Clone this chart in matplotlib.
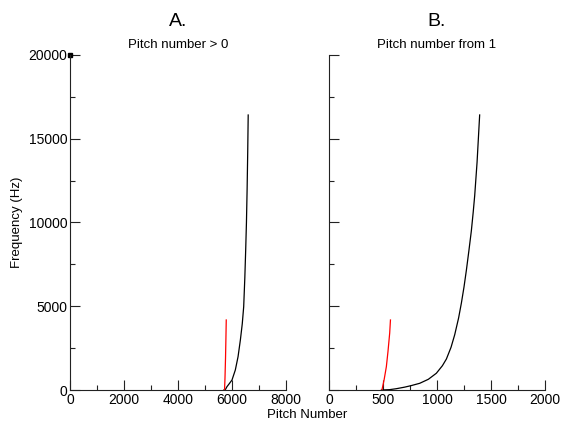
import numpy as np
from matplotlib import pyplot as plt
from matplotlib.ticker import MultipleLocator

plt.rcParams['font.family'] = ['Liberation Sans', 'DejaVu Sans']

# ---- panel A : pitch number > 0 ----
a_black_n = [5700, 5760, 5813, 5900, 6000, 6123, 6224, 6310, 6380, 6433, 6475, 6507, 6535, 6560, 6582, 6600]
a_black_f = [0, 40, 197, 380, 597, 1194, 1988, 2985, 3950, 4973, 6700, 8358, 10000, 12000, 14200, 16418]
a_red_n = [5724, 5740, 5760, 5775, 5787]
a_red_f = [0, 700, 1900, 3100, 4180]
blob_n = [0]
blob_f = [20000]

# ---- panel B : pitch number from 1 ----
b_black_n = [485, 560, 624, 700, 760, 840, 920, 994, 1050, 1087, 1130, 1164, 1200, 1226, 1250, 1272, 1295, 1318, 1335, 1349, 1371, 1395]
b_black_f = [0, 20, 78, 170, 260, 400, 640, 1000, 1450, 1850, 2550, 3300, 4300, 5200, 6150, 7150, 8300, 9500, 10600, 11600, 13600, 16420]
b_red_n = [490, 510, 531, 546, 562, 569]
b_red_f = [0, 600, 1390, 2290, 3400, 4180]

fig = plt.figure(figsize=(5.61, 4.23), dpi=100)
axA = fig.add_axes([70/561, 33/423, 216/561, 335/423])
axB = fig.add_axes([329/561, 33/423, 216/561, 335/423])

for ax in (axA, axB):
    for s in ('top', 'right'):
        ax.spines[s].set_visible(False)
    for s in ('left', 'bottom'):
        ax.spines[s].set_color('#222222')
        ax.spines[s].set_linewidth(0.8)
    ax.set_ylim(0, 20000)
    ax.yaxis.set_major_locator(MultipleLocator(5000))
    ax.yaxis.set_minor_locator(MultipleLocator(2500))
    ax.tick_params(which='major', direction='in', length=7, width=0.8, color='#222222',
                   labelsize=10, pad=2)
    ax.tick_params(which='minor', direction='in', length=3.5, width=0.8, color='#222222')

axA.set_xlim(0, 8000)
axA.xaxis.set_major_locator(MultipleLocator(2000))
axA.xaxis.set_minor_locator(MultipleLocator(1000))
axB.set_xlim(0, 2000)
axB.xaxis.set_major_locator(MultipleLocator(500))
axB.xaxis.set_minor_locator(MultipleLocator(250))
axB.tick_params(axis='y', labelleft=False)

axA.plot(a_black_n, a_black_f, color='black', lw=0.9)
axA.plot(a_red_n, a_red_f, color='red', lw=0.9)
axA.plot(blob_n, blob_f, 's', color='black', ms=3.5, clip_on=False)
axB.plot(b_black_n, b_black_f, color='black', lw=0.9)
axB.plot(b_red_n, b_red_f, color='red', lw=0.9)

fig.text(178/561, 1 - 22/423, 'A.', ha='center', va='center', fontsize=14)
fig.text(178/561, 1 - 45/423, 'Pitch number > 0', ha='center', va='center', fontsize=9.5)
fig.text(437/561, 1 - 22/423, 'B.', ha='center', va='center', fontsize=14)
fig.text(437/561, 1 - 45/423, 'Pitch number from 1', ha='center', va='center', fontsize=9.5)
fig.text(17/561, 1 - 222/423, 'Frequency (Hz)', ha='center', va='center', rotation=90, fontsize=9.5)
fig.text(307/561, 1 - 415/423, 'Pitch Number', ha='center', va='center', fontsize=9.5)

fig.savefig('out.png', dpi=100)
